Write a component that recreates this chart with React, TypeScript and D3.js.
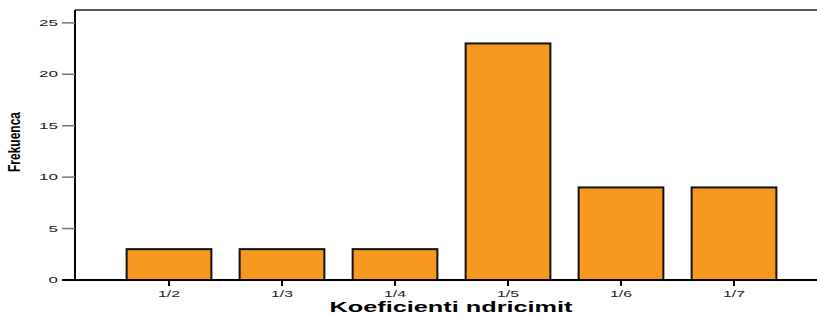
// @ts-nocheck
import React, { useEffect, useRef } from "react";
import * as d3 from "d3";

const categories = ["1/2", "1/3", "1/4", "1/5", "1/6", "1/7"];
const counts = [3, 3, 3, 23, 9, 9];
const yTicks = [0, 5, 10, 15, 20, 25];

const App = () => {
  const svgRef = useRef();

  useEffect(() => {
    const width = 817;
    const height = 314;
    const plot = { left: 75, top: 10, bottom: 280 };
    const font = "Liberation Sans, Arial, sans-serif";

    d3.select(svgRef.current).selectAll("*").remove();
    const svg = d3
      .select(svgRef.current)
      .attr("width", width)
      .attr("height", height);

    const x = d3
      .scaleBand()
      .domain(categories)
      .range([112.5, 790.5])
      .paddingInner(0.25)
      .paddingOuter(0.125);

    const y = d3.scaleLinear().domain([0, 26.25]).range([plot.bottom, plot.top]);

    // bars
    svg
      .selectAll("rect.bar")
      .data(categories)
      .enter()
      .append("rect")
      .attr("class", "bar")
      .attr("x", (d) => x(d))
      .attr("y", (d, i) => y(counts[i]))
      .attr("width", x.bandwidth())
      .attr("height", (d, i) => y(0) - y(counts[i]))
      .style("fill", "#f7991f")
      .style("stroke", "#111")
      .style("stroke-width", 2);

    // frame: left and top lines
    svg
      .append("line")
      .attr("x1", plot.left)
      .attr("x2", plot.left)
      .attr("y1", plot.top)
      .attr("y2", plot.bottom)
      .style("stroke", "#000")
      .style("stroke-width", 2);
    svg
      .append("line")
      .attr("x1", plot.left)
      .attr("x2", width)
      .attr("y1", plot.top)
      .attr("y2", plot.top)
      .style("stroke", "#222")
      .style("stroke-width", 1.5);

    // y ticks
    const yg = svg.append("g");
    yTicks.forEach((t) => {
      yg.append("line")
        .attr("x1", 62)
        .attr("x2", plot.left)
        .attr("y1", y(t))
        .attr("y2", y(t))
        .style("stroke", t === 0 ? "#000" : "#777")
        .style("stroke-width", t === 0 ? 2 : 1.5);
      yg.append("text")
        .attr("x", 58)
        .attr("y", y(t))
        .attr("dy", "0.35em")
        .attr("text-anchor", "end")
        .attr("textLength", String(t).length * 9.5)
        .attr("lengthAdjust", "spacingAndGlyphs")
        .style("font-family", font)
        .style("font-size", "9px")
        .style("fill", "#222")
        .text(t);
    });

    // bottom axis line
    svg
      .append("line")
      .attr("x1", 62)
      .attr("x2", width)
      .attr("y1", plot.bottom)
      .attr("y2", plot.bottom)
      .style("stroke", "#000")
      .style("stroke-width", 2);

    // x ticks
    const xg = svg.append("g");
    categories.forEach((c) => {
      const cx = x(c) + x.bandwidth() / 2;
      xg.append("line")
        .attr("x1", cx)
        .attr("x2", cx)
        .attr("y1", plot.bottom)
        .attr("y2", plot.bottom + 6)
        .style("stroke", "#000")
        .style("stroke-width", 2);
      xg.append("text")
        .attr("x", cx)
        .attr("y", 297)
        .attr("text-anchor", "middle")
        .attr("textLength", 22)
        .attr("lengthAdjust", "spacingAndGlyphs")
        .style("font-family", font)
        .style("font-size", "9.5px")
        .style("fill", "#222")
        .text(c);
    });

    // axis titles
    svg
      .append("text")
      .attr("x", 451)
      .attr("y", 312)
      .attr("text-anchor", "middle")
      .attr("textLength", 243)
      .attr("lengthAdjust", "spacingAndGlyphs")
      .style("font-family", font)
      .style("font-weight", "bold")
      .style("font-size", "14px")
      .text("Koeficienti ndricimit");

    svg
      .append("text")
      .attr("transform", "translate(20,142) rotate(-90)")
      .attr("text-anchor", "middle")
      .attr("textLength", 60)
      .attr("lengthAdjust", "spacingAndGlyphs")
      .style("font-family", "Liberation Sans Narrow, Liberation Sans, Arial, sans-serif")
      .style("font-weight", "bold")
      .style("font-size", "16px")
      .text("Frekuenca");
  }, []);

  return (
    <svg
      ref={svgRef}
      style={{ position: "absolute", left: 0, top: 0, background: "#fff" }}
    ></svg>
  );
};

export default App;
